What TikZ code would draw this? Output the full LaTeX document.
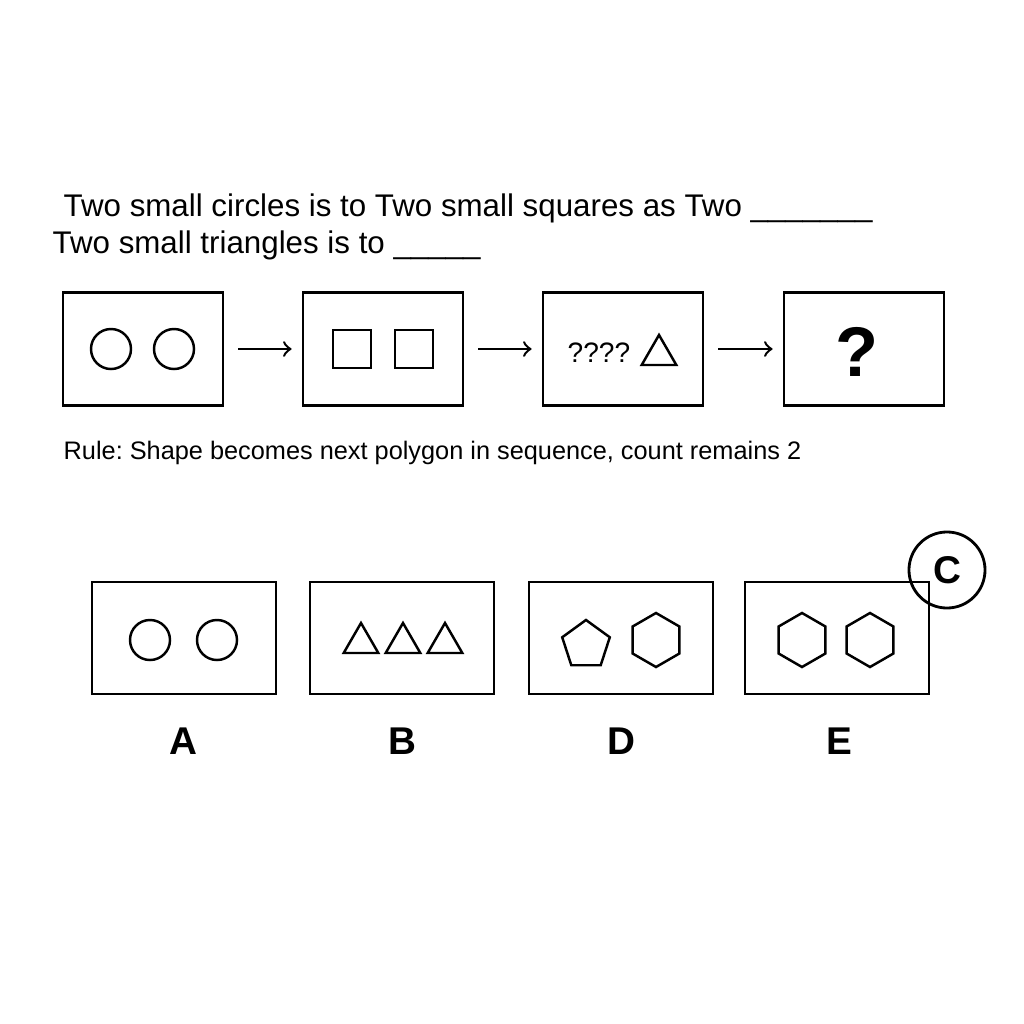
\documentclass[tikz,border=0pt]{standalone}
\usepackage{fontspec}
\setmainfont{Liberation Sans}
\usetikzlibrary{positioning}
\usetikzlibrary{shapes.geometric}
\begin{document}
\frenchspacing
\begin{tikzpicture}[x=0.01cm,y=-0.01cm,
	panel/.style={draw,line width=0.8pt,minimum width=1.6cm,minimum height=1.13cm},
	choice/.style={draw,line width=0.8pt,minimum width=1.84cm,minimum height=1.12cm},
	circ/.style={draw,circle,line width=0.7pt,minimum size=0.40cm,inner sep=0pt},
	sqr/.style={draw,line width=0.7pt,minimum size=0.38cm,inner sep=0pt},
	tri/.style={draw,regular polygon,regular polygon sides=3,line width=0.7pt,minimum size=0.40cm,inner sep=0pt},
	pent/.style={draw,regular polygon,regular polygon sides=5,line width=0.7pt,minimum size=0.50cm,inner sep=0pt},
	hexa/.style={draw,regular polygon,regular polygon sides=6,line width=0.7pt,minimum size=0.54cm,inner sep=0pt,shape border rotate=30},
	arr/.style={->,line width=0.7pt,shorten <=0.14cm,shorten >=0.1cm},
	lbl/.style={font=\fontsize{11pt}{13pt}\selectfont\bfseries}]
	\useasboundingbox (0,0) rectangle (1024,1024);
	% question
	\node (q1) at (63,208)[right,inner sep=0pt]{\fontsize{8.9pt}{10pt}\selectfont Two small circles is to Two small squares as Two \_\_\_\_\_\_\_};
	\node (q2) at (52,245)[right,inner sep=0pt]{\fontsize{8.9pt}{10pt}\selectfont Two small triangles is to \_\_\_\_\_};
	% sequence
	\node[panel] (p1) at (143,349){};
	\node[panel] (p2) at (383,349){};
	\node[panel] (p3) at (623,349){};
	\node[panel] (p4) at (864,349){};
	\node[circ] (c1) at (111,349){};
	\node[circ] (c2) at (174,349){};
	\node[sqr] (s1) at (352,349){};
	\node[sqr] (s2) at (414,349){};
	\node (qm) at (599,353){\fontsize{8pt}{10pt}\selectfont ????};
	\node[tri] (t1) at (659,355){};
	\node (big) at (857,352){\fontsize{20pt}{24pt}\selectfont\bfseries ?};
	\draw[arr] (p1) -- (p2);
	\draw[arr] (p2) -- (p3);
	\draw[arr] (p3) -- (p4);
	\node (rule) at (63,453)[right,inner sep=0pt]{\fontsize{7.2pt}{9pt}\selectfont Rule: Shape becomes next polygon in sequence, count remains 2};
	% choices
	\node[choice] (bA) at (184,638){};
	\node[choice] (bB) at (402,638){};
	\node[choice] (bD) at (621,638){};
	\node[choice] (bE) at (837,638){};
	\node[circ] (a1) at (150,640){};
	\node[circ] (a2) at (217,640){};
	\node[tri] (b1) at (361,643){};
	\node[tri] (b2) at (403,643){};
	\node[tri] (b3) at (445,643){};
	\node[pent] (d1) at (586,645){};
	\node[hexa] (d2) at (656,640){};
	\node[hexa] (e1) at (802,640){};
	\node[hexa] (e2) at (870,640){};
	\node[lbl] (lA) at (183,741){A};
	\node[lbl] (lB) at (402,741){B};
	\node[lbl] (lD) at (621,741){D};
	\node[lbl] (lE) at (839,741){E};
	\node[draw,circle,line width=0.8pt,minimum size=0.76cm,inner sep=0pt,lbl] (mark) at (947,570){C};
\end{tikzpicture}
\end{document}
